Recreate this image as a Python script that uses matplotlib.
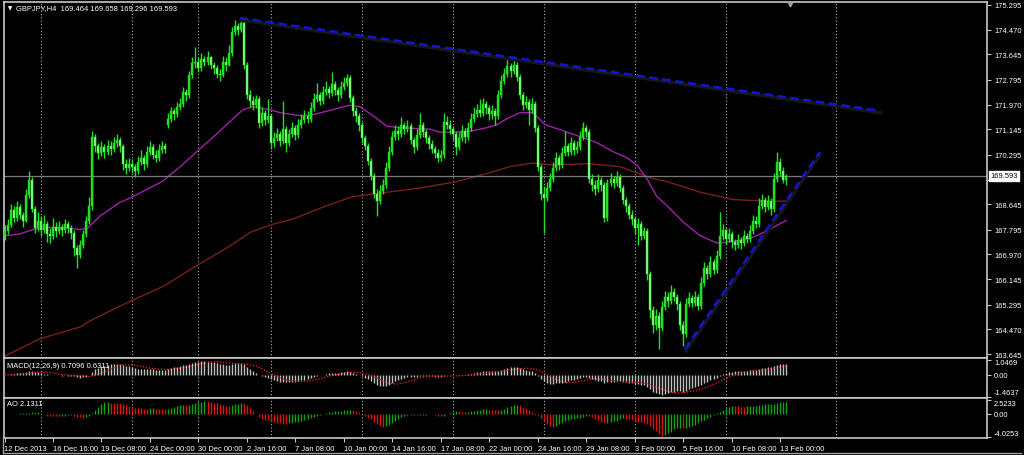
import numpy as np
import pandas as pd
import matplotlib
matplotlib.use("Agg")
import matplotlib.pyplot as plt
from matplotlib import transforms
from matplotlib.lines import Line2D

plt.rcParams['font.family'] = ['Liberation Sans Narrow', 'Liberation Sans', 'DejaVu Sans']

# ---------------- data ----------------
HEADER = "GBPJPY,H4  169.464 169.658 169.296 169.593"
MACD_LABEL = "MACD(12,26,9) 0.7096 0.6311"
AO_LABEL = "AO 2.1311"
LAST_PRICE = 169.593
FIRST_OPEN = 167.60
GAP_OPENS = {54: 171.30}

CLOSE = [
    167.75, 167.95, 168.45, 168.20, 168.55, 168.30, 168.10, 168.95, 169.45, 168.50,
    167.85, 168.10, 167.80, 168.00, 167.65, 167.60, 167.90, 167.75, 167.90, 167.80,
    168.00, 167.85, 167.70, 167.20, 166.95, 167.30, 167.65, 168.10, 168.60, 170.90,
    170.60, 170.35, 170.55, 170.40, 170.60, 170.50, 170.70, 170.80, 170.60, 170.00,
    169.85, 170.00, 169.90, 169.75, 170.05, 170.20, 170.00, 170.40, 170.55, 170.30,
    170.20, 170.45, 170.60, 170.50, 171.50, 171.75, 171.65, 171.90, 172.00, 172.40,
    172.30, 172.95, 173.35, 173.40, 173.20, 173.50, 173.40, 173.55, 173.30, 173.20,
    173.00, 172.95, 173.40, 173.30, 173.70, 174.40, 174.60, 174.45, 174.70, 173.30,
    172.30, 172.10, 171.95, 172.15, 171.35, 171.70, 171.45, 171.60, 170.70, 170.85,
    171.00, 170.75, 171.15, 170.70, 171.00, 171.20, 170.95, 171.30, 171.45, 171.60,
    171.50, 171.85, 172.15, 172.30, 172.10, 172.40, 172.50, 172.35, 172.65, 172.45,
    172.30, 172.55, 172.70, 172.85, 172.20, 171.75, 171.60, 171.30, 170.85, 170.60,
    170.10, 169.60, 169.00, 168.75, 169.10, 169.30, 169.85, 170.40, 170.90, 171.10,
    171.00, 171.30, 171.15, 171.25, 170.80, 170.55, 170.95, 171.30, 171.05, 170.85,
    170.65, 170.50, 170.35, 170.20, 170.30, 171.40, 171.30, 171.15, 171.00, 170.55,
    170.85, 171.10, 170.90, 171.20, 171.50, 171.65, 171.80, 171.70, 172.00, 171.85,
    171.65, 171.75, 171.60, 172.30, 172.75, 173.00, 173.25, 173.10, 173.30, 172.90,
    172.30, 171.95, 172.05, 171.80, 172.00, 171.20, 169.90, 169.00, 168.85, 169.20,
    169.50, 169.85, 170.20, 169.95, 170.35, 170.60, 170.40, 170.70, 170.45, 170.55,
    170.90, 171.20, 171.05, 169.50, 169.30, 169.15, 169.45, 169.30, 168.20, 169.35,
    169.50, 169.35, 169.55, 169.20, 168.80, 168.60, 168.30, 168.15, 167.85, 168.00,
    167.60, 167.75, 166.30, 165.10, 164.60, 164.90, 164.50, 165.20, 165.55, 165.40,
    165.70, 165.55, 165.30, 164.60, 164.30, 165.30, 165.50, 165.35, 165.55, 165.25,
    166.00, 166.50, 166.30, 166.70, 166.45, 166.90, 167.60, 167.80, 167.50, 167.65,
    167.40, 167.30, 167.45, 167.35, 167.60, 167.50, 167.75, 168.10, 168.00, 168.60,
    168.80, 168.55, 168.75, 168.50, 169.50, 170.05, 169.75, 169.464, 169.593]

HIGH = [
    167.95, 168.15, 168.65, 168.60, 168.75, 168.65, 168.40, 169.15, 169.75, 169.55,
    168.60, 168.40, 168.25, 168.30, 168.10, 167.85, 168.20, 168.05, 168.10, 168.00,
    168.15, 168.10, 167.95, 167.80, 167.30, 167.45, 167.80, 168.25, 168.90, 171.10,
    171.00, 170.70, 170.75, 170.65, 170.80, 170.75, 170.90, 171.00, 170.90, 170.65,
    170.15, 170.20, 170.15, 170.00, 170.25, 170.45, 170.30, 170.60, 170.75, 170.65,
    170.45, 170.65, 170.75, 170.70, 171.70, 171.90, 171.85, 172.05, 172.20, 172.55,
    172.50, 173.10, 173.55, 173.90, 173.55, 173.70, 173.60, 173.75, 173.60, 173.40,
    173.30, 173.15, 173.60, 173.55, 173.95, 174.55, 174.80, 174.70, 174.88, 174.75,
    173.40, 172.45, 172.25, 172.30, 172.25, 171.90, 171.80, 172.15, 171.70, 171.05,
    171.20, 171.10, 172.10, 171.25, 171.15, 171.40, 171.30, 171.50, 171.65, 171.80,
    171.75, 172.05, 172.35, 172.70, 172.40, 172.60, 172.75, 172.60, 173.05, 172.75,
    172.55, 172.75, 172.90, 173.00, 172.95, 172.30, 171.90, 171.70, 171.40, 170.95,
    170.70, 170.20, 169.70, 169.15, 169.30, 169.50, 170.05, 170.60, 171.10, 171.30,
    171.25, 171.55, 171.40, 171.45, 171.35, 170.90, 171.15, 171.70, 171.40, 171.15,
    170.95, 170.80, 170.60, 170.50, 170.45, 171.70, 171.60, 171.45, 171.25, 171.10,
    171.05, 171.30, 171.20, 171.40, 171.70, 171.90, 172.00, 172.15, 172.20, 172.10,
    171.95, 171.95, 171.85, 172.45, 172.95, 173.20, 173.55, 173.35, 173.50, 173.40,
    173.00, 172.40, 172.25, 172.15, 172.20, 172.10, 171.30, 170.00, 169.25, 169.40,
    169.70, 170.05, 170.40, 170.30, 170.55, 171.10, 170.70, 170.90, 170.80, 170.75,
    171.10, 171.40, 171.30, 171.15, 169.65, 169.45, 169.65, 169.55, 169.40, 169.50,
    169.70, 169.60, 169.75, 169.65, 169.30, 168.90, 168.70, 168.45, 168.25, 168.20,
    168.10, 167.90, 167.85, 166.40, 165.25, 165.15, 165.05, 165.40, 165.75, 165.70,
    165.95, 165.85, 165.65, 165.40, 164.75, 165.50, 165.70, 165.60, 165.75, 165.65,
    166.20, 166.70, 166.60, 166.90, 166.80, 167.10, 168.40, 168.00, 167.90, 167.85,
    167.75, 167.50, 167.65, 167.55, 167.80, 167.70, 167.95, 168.30, 168.25, 168.85,
    169.00, 168.90, 168.95, 168.85, 169.70, 170.40, 170.20, 169.90, 169.658]

LOW = [
    167.45, 167.65, 167.90, 168.05, 168.10, 168.15, 167.90, 168.05, 168.85, 168.40,
    167.70, 167.75, 167.60, 167.70, 167.40, 167.35, 167.50, 167.55, 167.65, 167.60,
    167.70, 167.70, 167.50, 166.90, 166.50, 166.85, 167.20, 167.55, 168.00, 168.45,
    170.40, 170.15, 170.25, 170.20, 170.30, 170.30, 170.40, 170.55, 170.40, 169.80,
    169.65, 169.75, 169.70, 169.55, 169.65, 169.95, 169.80, 169.90, 170.30, 170.15,
    170.05, 170.10, 170.35, 170.35, 171.20, 171.40, 171.45, 171.55, 171.80, 171.90,
    172.10, 172.20, 172.85, 173.20, 173.05, 173.10, 173.25, 173.30, 173.15, 173.00,
    172.85, 172.75, 172.90, 173.10, 173.25, 173.60, 174.30, 174.30, 174.40, 173.15,
    172.15, 171.90, 171.80, 171.85, 171.20, 171.25, 171.30, 171.35, 170.50, 170.55,
    170.75, 170.60, 170.65, 170.40, 170.60, 170.90, 170.80, 170.85, 171.20, 171.35,
    171.35, 171.40, 171.75, 172.05, 171.95, 172.00, 172.30, 172.20, 172.25, 172.30,
    172.10, 172.20, 172.45, 172.60, 172.05, 171.60, 171.40, 171.10, 170.70, 170.45,
    169.95, 169.45, 168.85, 168.25, 168.65, 169.00, 169.20, 169.75, 170.30, 170.80,
    170.80, 170.90, 171.00, 171.05, 170.65, 170.35, 170.45, 170.85, 170.90, 170.70,
    170.50, 170.35, 170.20, 170.05, 170.10, 170.20, 171.15, 171.00, 170.80, 170.30,
    170.45, 170.75, 170.70, 170.80, 171.10, 171.40, 171.55, 171.55, 171.60, 171.65,
    171.45, 171.50, 171.30, 171.50, 172.20, 172.65, 172.90, 172.90, 173.00, 172.75,
    172.15, 171.80, 171.85, 171.30, 171.70, 171.05, 169.75, 168.80, 167.70, 168.75,
    169.10, 169.40, 169.75, 169.80, 169.85, 170.25, 170.25, 170.30, 170.30, 170.35,
    170.45, 170.80, 170.90, 169.35, 169.10, 168.95, 169.05, 169.10, 168.05, 168.10,
    169.25, 169.20, 169.25, 169.05, 168.65, 168.40, 168.15, 167.95, 167.65, 167.30,
    167.45, 167.50, 166.10, 164.85, 164.35, 164.45, 163.80, 164.40, 165.10, 165.20,
    165.30, 165.40, 165.10, 164.45, 163.90, 164.20, 165.20, 165.20, 165.25, 165.10,
    165.15, 165.90, 166.15, 166.20, 166.30, 166.35, 166.80, 167.45, 167.30, 167.40,
    167.20, 167.10, 167.20, 167.15, 167.25, 167.35, 167.40, 167.65, 167.85, 167.90,
    168.50, 168.40, 168.45, 168.30, 168.40, 169.40, 169.60, 169.35, 169.296]

# moving averages read at sample bars
MA_FAST_BARS = [0, 5, 10, 15, 20, 25, 27.5, 31.5, 38, 41.4, 52, 58, 63.5, 69, 74.4, 78.7,
                82, 87.6, 91, 97.5, 101, 106.4, 114, 117.3, 121.6, 126.2, 130.5, 140.4,
                143.7, 149.3, 153.6, 159.2, 162.5, 165.8, 170.1, 174.4, 178.4, 184.3, 190,
                195.5, 200.8, 205.4, 208.7, 212, 215.3, 218.6, 224, 229.5, 235.1, 240.4,
                246, 251.6, 256, 258]
MA_FAST_VALS = [167.59, 167.65, 167.82, 167.87, 167.85, 167.80, 167.85, 168.25, 168.70, 168.85,
                169.40, 169.90, 170.40, 170.90, 171.40, 171.80, 171.90, 171.80, 171.70, 171.60,
                171.62, 171.75, 171.95, 171.90, 171.60, 171.25, 171.20, 171.15, 171.05, 171.05,
                171.08, 171.20, 171.30, 171.50, 171.70, 171.70, 171.30, 171.10, 170.90, 170.70,
                170.40, 170.20, 169.95, 169.50, 168.90, 168.60, 168.05, 167.60, 167.35, 167.40,
                167.50, 167.75, 168.00, 168.10]
MA_SLOW_BARS = [0, 11.7, 25, 28.2, 34.8, 41.4, 52.3, 63.5, 74.4, 81, 87.6, 95.2, 106.4, 115,
                123, 130.5, 138, 149.3, 160.2, 166.8, 174.4, 181, 192.2, 203.1, 214, 218.6,
                229.5, 240.4, 251.6, 258]
MA_SLOW_VALS = [163.57, 164.15, 164.55, 164.75, 165.08, 165.40, 165.90, 166.60, 167.25, 167.70,
                167.95, 168.15, 168.60, 168.90, 169.00, 169.10, 169.20, 169.40, 169.70, 169.90,
                170.02, 169.95, 170.00, 169.90, 169.50, 169.40, 169.05, 168.80, 168.75, 168.75]

# trend lines (bar, price)
TREND_TOP = [(77.7, 174.86), (289.0, 171.76)]
TREND_UP = [(224.6, 163.81), (269.1, 170.39)]

PRICE_TICKS = [175.295, 174.470, 173.645, 172.795, 171.970, 171.145, 170.295, 169.470,
               168.645, 167.795, 166.970, 166.145, 165.295, 164.470, 163.645]
PRICE_TICKLABELS = ["175.295", "174.470", "173.645", "172.795", "171.970", "171.145",
                    "170.295", "", "168.645", "167.795", "166.970", "166.145", "165.295",
                    "164.470", "163.645"]
MACD_TICKS = [1.0469, 0.0, -1.4637]
MACD_TICKLABELS = ["1.0469", "0.00", "-1.4637"]
AO_TICKS = [2.5233, 0.0, -4.0253]
AO_TICKLABELS = ["2.5233", "0.00", "-4.0253"]

TIME_LABELS = ["12 Dec 2013", "16 Dec 16:00", "19 Dec 08:00", "24 Dec 00:00", "30 Dec 00:00",
               "2 Jan 16:00", "7 Jan 08:00", "10 Jan 00:00", "14 Jan 16:00", "17 Jan 08:00",
               "22 Jan 00:00", "24 Jan 16:00", "29 Jan 08:00", "3 Feb 00:00", "5 Feb 16:00",
               "10 Feb 08:00", "13 Feb 00:00"]
TIME_LABEL_BARS = [0, 16, 32, 48, 64, 80, 96, 112, 128, 144, 160, 176, 192, 208, 224, 240, 256]
GRID_BARS = [12, 42, 64, 88, 118, 148, 178, 208, 238, 274.5]

# ---------------- derived ----------------
n = len(CLOSE)
bars = np.arange(n)
close = np.array(CLOSE)
high = np.array(HIGH)
low = np.array(LOW)
opens = np.concatenate([[FIRST_OPEN], close[:-1]])
for k, v in GAP_OPENS.items():
    opens[k] = v

cs = pd.Series(close)
ema12 = cs.ewm(span=12, adjust=False).mean()
ema26 = cs.ewm(span=26, adjust=False).mean()
macd = (ema12 - ema26).values
signal = pd.Series(macd).rolling(9, min_periods=1).mean().values
median = pd.Series((high + low) / 2)
ao = (median.rolling(5, min_periods=1).mean() - median.rolling(34, min_periods=1).mean()).values

# ---------------- layout ----------------
W, H = 1024, 456
PX_BAR, X0 = 3.03, 4.5
L_PX, R_PX = 4, 987


def rect(y0, y1, x0=L_PX, x1=R_PX):
    return [x0 / W, 1 - y1 / H, (x1 - x0) / W, (y1 - y0) / H]


fig = plt.figure(figsize=(W / 100, H / 100), dpi=100, facecolor='black')
ax = fig.add_axes(rect(3, 359))
axm = fig.add_axes(rect(359, 399))
axa = fig.add_axes(rect(399, 439))

xlim = ((L_PX - X0) / PX_BAR, (R_PX - X0) / PX_BAR)
FG = '#c8c8c8'
FS = 5.4
for a in (ax, axm, axa):
    a.set_facecolor('black')
    a.set_xlim(*xlim)
    for s in a.spines.values():
        s.set_color(FG)
        s.set_linewidth(1.2)
    a.yaxis.tick_right()
    a.tick_params(axis='y', length=3, width=0.8, color=FG, labelcolor='white',
                  labelsize=FS, pad=2)
    for g in GRID_BARS:
        a.axvline(g, color='#b0b0b0', lw=0.8, ls=(0, (1, 2)), zorder=0.5)

ax.set_ylim(163.645 - 4 / 29.96, 175.295 + 3 / 29.96)
# MACD window: 1.0469 near the top edge, -1.4637 near the bottom edge
m_px = 37 / (1.0469 + 1.4637)
axm.set_ylim(-1.4637 - 1.5 / m_px, 1.0469 + 1.5 / m_px)
a_px = 37.5 / (2.5233 + 4.0253)
axa.set_ylim(-4.0253 - 1.0 / a_px, 2.5233 + 1.5 / a_px)

ax.set_xticks([])
axm.set_xticks([])
ax.set_yticks(PRICE_TICKS)
ax.set_yticklabels(PRICE_TICKLABELS)
axm.set_yticks(MACD_TICKS)
axm.set_yticklabels(MACD_TICKLABELS)
axa.set_yticks(AO_TICKS)
axa.set_yticklabels(AO_TICKLABELS)
for a in (axm, axa):
    labs = a.get_yticklabels()
    labs[0].set_va('top')
    labs[-1].set_va('bottom')

axa.set_xticks(TIME_LABEL_BARS)
axa.set_xticklabels(TIME_LABELS, ha='left')
axa.tick_params(axis='x', length=3, width=0.8, color=FG, labelcolor='white',
                labelsize=FS, pad=2)

# ---------------- main panel ----------------
ax.plot(MA_SLOW_BARS, MA_SLOW_VALS, color='#7a1e1e', lw=1.0, zorder=1)
ax.plot(MA_FAST_BARS, MA_FAST_VALS, color='#a020a8', lw=1.0, zorder=1)
ax.axhline(LAST_PRICE, color='#7a7a7a', lw=0.9, zorder=1)

up = close >= opens
ax.vlines(bars, low, high, color='#22e022', lw=1.0, zorder=2)
body_lo = np.minimum(opens, close)
body_h = np.maximum(np.abs(close - opens), 0.02)
ax.bar(bars[up], body_h[up], bottom=body_lo[up], width=0.66, color='#22e022',
       edgecolor='#22e022', lw=0.3, zorder=3)
ax.bar(bars[~up], body_h[~up], bottom=body_lo[~up], width=0.66, color='#8cff8c',
       edgecolor='#22e022', lw=0.3, zorder=3)

shadow = transforms.offset_copy(ax.transData, fig=fig, x=1.0, y=-2.0, units='dots')
for tl in (TREND_TOP, TREND_UP):
    xs = [p[0] for p in tl]
    ys = [p[1] for p in tl]
    ax.plot(xs, ys, color='#161616', lw=2.4, transform=shadow, zorder=3.5)
    ax.plot(xs, ys, color='#1414c8', lw=1.9, ls=(0, (3.2, 1.7)), zorder=4)

ax.plot([259.3], [175.33], marker='v', color='#a0a0a0', ms=3.5, zorder=5, clip_on=False)

blend = transforms.blended_transform_factory(ax.transAxes, ax.transData)
ax.text(1.0035, LAST_PRICE, f"{LAST_PRICE:.3f}", transform=blend, fontsize=FS,
        color='black', va='center', ha='left', zorder=10,
        bbox=dict(facecolor='white', edgecolor='white', pad=0.9))

# ---------------- MACD ----------------
axm.vlines(bars, 0, macd, color='#c0c0c0', lw=1.0, zorder=2)
axm.plot(bars, signal, color='#ff2020', lw=0.9, ls=(0, (1, 1.4)), zorder=3)

# ---------------- AO ----------------
ao_prev = np.concatenate([[ao[0]], ao[:-1]])
ao_col = np.where(ao >= ao_prev, '#14a014', '#e01010')
axa.vlines(bars, 0, ao, colors=ao_col, lw=1.0, zorder=2)

# ---------------- texts & window frame ----------------
fig.text(8 / W, 1 - 9 / H, "\u25bc", color='white', fontsize=4, family='DejaVu Sans',
         va='center', ha='left')
fig.text(16 / W, 1 - 9 / H, HEADER, color='white', fontsize=FS, va='center', ha='left')
fig.text(7 / W, 1 - 366 / H, MACD_LABEL, color='white', fontsize=FS, va='center', ha='left')
fig.text(7 / W, 1 - 405 / H, AO_LABEL, color='white', fontsize=FS, va='center', ha='left')

fig.add_artist(Line2D([3 / W, 3 / W], [1 - 453.5 / H, 1 - 439 / H], color='#a0a0a0',
                      lw=1.0, transform=fig.transFigure))
fig.add_artist(Line2D([3 / W, 1021 / W], [1 - 453.5 / H, 1 - 453.5 / H], color='#a0a0a0',
                      lw=1.0, transform=fig.transFigure))

fig.savefig("out.png", dpi=100, facecolor='black')
